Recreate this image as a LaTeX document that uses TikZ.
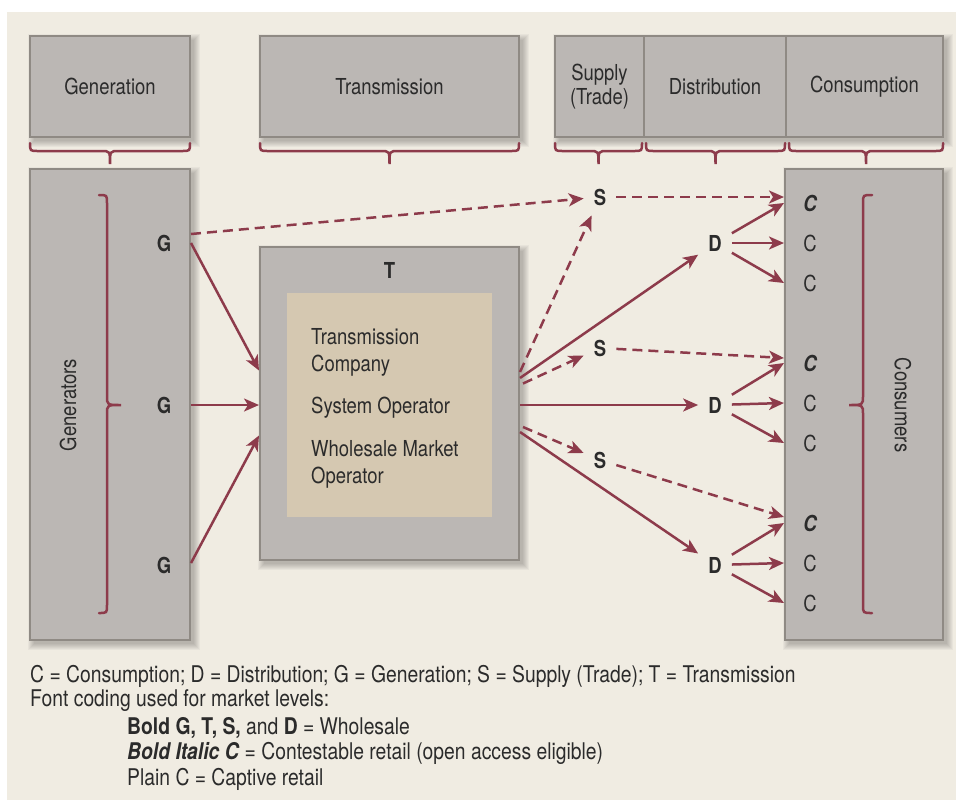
\documentclass[tikz,border=0pt]{standalone}
\usepackage{fontspec}
\setmainfont{TeX Gyre Heros}[FakeStretch=0.84]
\usetikzlibrary{arrows.meta,calc}
\definecolor{cream}{HTML}{F0ECE2}
\definecolor{boxfill}{HTML}{BBB7B4}
\definecolor{boxline}{HTML}{8F8A84}
\definecolor{tan}{HTML}{D5C8B1}
\definecolor{wine}{HTML}{8D3B4B}
\definecolor{txt}{HTML}{2B2B2B}
\newcommand\mkshade[4]{%
  \foreach \s in {0,1,...,6}{%
    \fill[black,opacity=0.035] ($(#1,#2)+(4-\s,4-\s)$) rectangle ($(#3,#4)+(4+\s,4+\s)$);}}
\tikzset{
  box/.style={draw=boxline, line width=2pt, fill=boxfill, inner sep=0pt},
  hdr/.style={box, align=center, text=txt},
  lab/.style={font=\fontsize{22}{26}\selectfont\bfseries, inner sep=10pt, text=txt},
  clab/.style={inner sep=2pt, text=txt},
  sol/.style={draw=wine, line width=2.5pt, -{Stealth[length=15pt,width=13pt,inset=4pt]}},
  dsh/.style={sol, dash pattern=on 10pt off 6pt},
  brc/.style={draw=wine, line width=2.5pt, line cap=round},
  leg/.style={anchor=west, inner sep=0pt, text=txt, font=\fontsize{23}{27}\selectfont},
}
\begin{document}
\begin{tikzpicture}[x=1pt, y=-1pt, font=\fontsize{22}{27}\selectfont]
\useasboundingbox (0,0) rectangle (956,807);
\fill[white] (0,0) rectangle (956,807);
\fill[cream] (7,12) rectangle (956,800);

% shadows
\mkshade{30}{36}{190}{137}
\mkshade{260}{36}{519}{137}
\mkshade{555}{36}{943}{137}
\mkshade{30}{169}{190}{640}
\mkshade{260}{247}{519}{560}
\mkshade{785}{169}{943}{640}

% header boxes
\node[hdr, minimum width=160pt, minimum height=101pt] (hgen) at (110,86.5) {Generation};
\node[hdr, minimum width=259pt, minimum height=101pt] (htr) at (389.5,86.5) {Transmission};
\node[hdr, minimum width=89pt, minimum height=101pt, font=\fontsize{22}{24}\selectfont] (hsup) at (599.5,86.5) {Supply\\(Trade)};
\node[hdr, minimum width=142pt, minimum height=101pt] (hdis) at (715,86.5) {Distribution};
\node[hdr, minimum width=157pt, minimum height=101pt] (hcon) at (864.5,86.5) {Consumption};

% header braces
\foreach \a/\b/\m in {30/190/110, 260/519/389.5, 555/642/598.5, 646/785/715.5, 789/943/866}{
  \draw[brc] (\a,143) .. controls (\a,151) .. (\a+8,151) -- (\m-9,151)
     .. controls (\m,151) .. (\m,164) .. controls (\m,151) .. (\m+9,151)
     -- (\b-8,151) .. controls (\b,151) .. (\b,143);
}

% main boxes
\node[box, minimum width=160pt, minimum height=471pt] (genbox) at (110,404.5) {};
\node[box, minimum width=259pt, minimum height=313pt] (tbox) at (389.5,403.5) {};
\node[fill=tan, minimum width=205pt, minimum height=224pt, inner sep=0pt] (inner) at (389.5,405) {};
\node[box, minimum width=158pt, minimum height=471pt] (cbox) at (864,404.5) {};

% inner braces
\draw[brc] (99,195) .. controls (107,195) .. (107,203) -- (107,396)
  .. controls (107,405) .. (121,405) .. controls (107,405) .. (107,414)
  -- (107,605) .. controls (107,613) .. (99,613);
\draw[brc] (872,195) .. controls (863,195) .. (863,203) -- (863,396)
  .. controls (863,405) .. (849,405) .. controls (863,405) .. (863,414)
  -- (863,605) .. controls (863,613) .. (872,613);

\node[rotate=90, text=txt] (gentxt) at (68,405) {Generators};
\node[rotate=-90, text=txt] (contxt) at (903,405) {Consumers};

% T box texts
\node[lab, inner sep=2pt] (tlab) at (389.5,270) {T};
\node[anchor=west, align=left, inner sep=0pt, text=txt] (tco) at (311,352) {Transmission\\Company};
\node[anchor=west, inner sep=0pt, text=txt] (tso) at (311,408) {System Operator};
\node[anchor=west, align=left, inner sep=0pt, text=txt] (twm) at (311,464) {Wholesale Market\\Operator};

% labels
\node[lab] (g1) at (164,243) {G};
\node[lab] (g2) at (164,405) {G};
\node[lab] (g3) at (164,565) {G};
\node[lab] (s1) at (600,197) {S};
\node[lab] (s2) at (600,348) {S};
\node[lab] (s3) at (600,460) {S};
\node[lab] (d1) at (715,243) {D};
\node[lab] (d2) at (715,405) {D};
\node[lab] (d3) at (715,565) {D};
\node[clab, font=\fontsize{22}{26}\selectfont\bfseries\itshape] (c1) at (810,203) {C};
\node[clab] (c2) at (810,243) {C};
\node[clab] (c3) at (810,283) {C};
\node[clab, font=\fontsize{22}{26}\selectfont\bfseries\itshape] (c4) at (810,363) {C};
\node[clab] (c5) at (810,403) {C};
\node[clab] (c6) at (810,443) {C};
\node[clab, font=\fontsize{22}{26}\selectfont\bfseries\itshape] (c7) at (810,523) {C};
\node[clab] (c8) at (810,563) {C};
\node[clab] (c9) at (810,603) {C};

% coordinates
\coordinate (g1o) at (genbox.east |- g1);
\coordinate (g1d) at ($(g1o)+(0,-9)$);
\coordinate (g2o) at (genbox.east |- g2);
\coordinate (g3o) at ($(genbox.east |- g3)+(0,-2)$);
\coordinate (tin1) at ($(tbox.west)+(0,-33)$);
\coordinate (tin2) at (tbox.west |- g2);
\coordinate (tin3) at ($(tbox.west)+(0,32)$);
\coordinate (to1) at ($(tbox.east)+(0,-31.5)$);
\coordinate (to2) at ($(tbox.east)+(0,-25.5)$);
\coordinate (to3) at ($(tbox.east)+(3,-20)$);
\coordinate (to4) at (tbox.east |- d2);
\coordinate (to5) at ($(tbox.east)+(3,23.5)$);
\coordinate (to6) at ($(tbox.east)+(0,28.5)$);
\coordinate (cs1) at ($(cbox.west |- c1)+(0,-6)$);
\coordinate (cs2) at ($(cbox.west |- c4)+(0,-5)$);
\coordinate (cs3) at ($(cbox.west |- c7)+(0,-6)$);

% connectors from generators
\draw[dsh] (g1d) -- (s1);
\draw[sol] (g1o) -- (tin1);
\draw[sol] (g2o) -- (tin2);
\draw[sol] (g3o) -- (tin3);

% from transmission
\draw[dsh] (to1) -- (s1);
\draw[sol] (to2) -- (d1);
\draw[dsh] (to3) -- (s2);
\draw[sol] (to4) -- (d2);
\draw[dsh] (to5) -- (s3);
\draw[sol] (to6) -- (d3);

% supply to consumers
\draw[dsh] (s1) -- (cs1);
\draw[dsh] (s2) -- (cs2);
\draw[dsh] (s3) -- (cs3);

% distribution to consumers
\draw[sol] (d1) -- (cbox.west |- c1);
\draw[sol] (d1) -- (cbox.west |- c2);
\draw[sol] (d1) -- (cbox.west |- c3);
\draw[sol] (d2) -- (cbox.west |- c4);
\draw[sol] (d2) -- (cbox.west |- c5);
\draw[sol] (d2) -- (cbox.west |- c6);
\draw[sol] (d3) -- (cbox.west |- c7);
\draw[sol] (d3) -- (cbox.west |- c8);
\draw[sol] (d3) -- (cbox.west |- c9);

% legend
\node[leg] (l1) at (30,676) {C = Consumption; D = Distribution; G = Generation; S = Supply (Trade); T = Transmission};
\node[leg] (l2) at (30,701) {Font coding used for market levels:};
\node[leg] (l3) at (127,728) {\textbf{Bold G, T, S,} and \textbf{D} = Wholesale};
\node[leg] (l4) at (127,753) {\textbf{\textit{Bold Italic C}} = Contestable retail (open access eligible)};
\node[leg] (l5) at (127,779) {Plain C = Captive retail};
\end{tikzpicture}
\end{document}
